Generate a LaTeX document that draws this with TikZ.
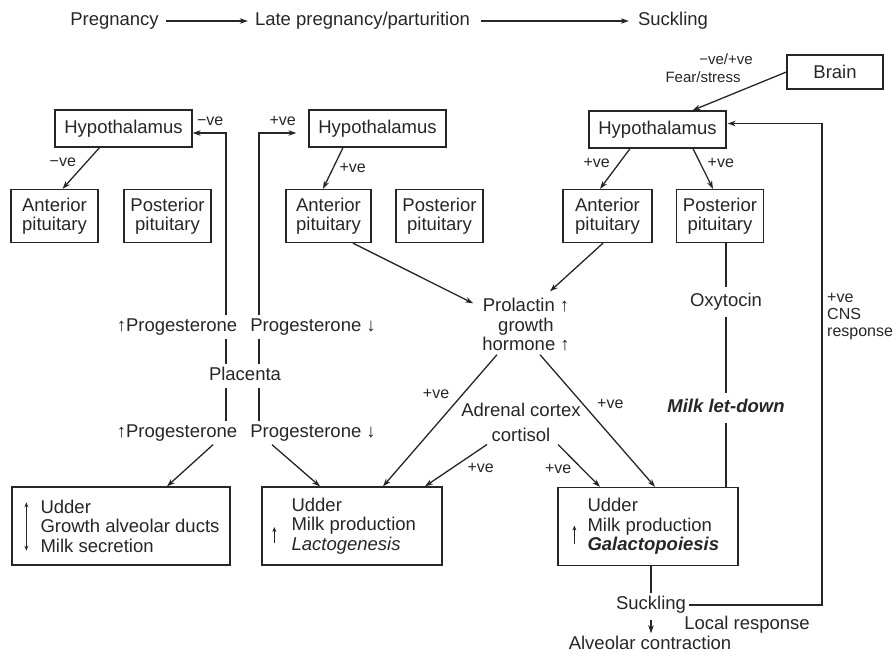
\documentclass[tikz,border=0pt]{standalone}
\usepackage{fontspec}
\setmainfont{Liberation Sans}
\usetikzlibrary{arrows.meta,positioning}

\newcommand{\mainsz}{\fontsize{18.5}{19.5}\selectfont}
\newcommand{\lblsz}{\fontsize{16}{17}\selectfont}

\tikzset{
  ln/.style={draw=black!85,line width=1.3pt},
  arr/.style={ln,-{Stealth[length=8pt,width=5.5pt]}},
  box/.style={ln,align=center,inner sep=2pt,text=black!85},
  hyp/.style={box,minimum width=137pt,minimum height=37pt},
  pit/.style={box,minimum width=87pt,minimum height=53pt},
  udder/.style={box,minimum width=#1,minimum height=78pt},
  txt/.style={inner sep=3pt,text height=13pt,text depth=4pt,text=black!85},
  mtxt/.style={inner sep=3pt,align=center,text=black!85},
  lbl/.style={font=\lblsz,inner sep=1pt,text=black!85},
  tip/.style={line width=1pt,draw=black!85,-{Stealth[length=5pt,width=4pt]}},
  dtip/.style={line width=1pt,draw=black!85,{Stealth[length=5pt,width=4pt]}-{Stealth[length=5pt,width=4pt]}}
}

\begin{document}
\begin{tikzpicture}[x=1pt,y=-1pt,on grid,font=\mainsz]
  \useasboundingbox (0,0) rectangle (896,657);
  % stages
  \node[txt] (preg)  at (114.5,21) {Pregnancy};
  \node[txt] (late)  at (362.5,21) {Late pregnancy/parturition};
  \node[txt] (suckT) at (673,21)   {Suckling};
  \draw[arr,shorten <=4pt,shorten >=4pt] (preg) -- (late);
  \draw[arr,shorten <=8pt,shorten >=6pt] (late) -- (suckT);

  % hypothalamus and pituitary
  \node[hyp] (hypL) at (123.5,128.5) {Hypothalamus};
  \node[hyp] (hypM) [right=254pt of hypL] {Hypothalamus};
  \node[hyp] (hypR) at (657.5,129.5) {Hypothalamus};
  \node[box,minimum width=96pt,minimum height=34pt] (brain) at (835,72) {Brain};
  \node[pit] (antL)  [below left=87.5pt and 69pt of hypL] {Anterior\\pituitary};
  \node[pit] (postL) [right=113pt of antL] {Posterior\\pituitary};
  \node[pit,minimum width=85pt] (antM) [below left=87.5pt and 49pt of hypM] {Anterior\\pituitary};
  \node[pit] (postM) [right=111pt of antM] {Posterior\\pituitary};
  \node[pit,minimum width=89pt] (antR) [below left=86.5pt and 50pt of hypR] {Anterior\\pituitary};
  \node[pit] (postR) [right=112.5pt of antR] {Posterior\\pituitary};

  \draw[arr] ([xshift=-24pt]hypL.south) -- node[lbl,pos=.35,anchor=east,xshift=-9pt] {−ve} ([xshift=8pt]antL.north);
  \draw[arr] ([xshift=-34.5pt]hypM.south) -- node[lbl,pos=.5,anchor=west,xshift=5pt] {+ve} ([xshift=-5.5pt]antM.north);
  \draw[arr] ([xshift=-27.5pt]hypR.south) -- node[lbl,pos=.35,anchor=east,xshift=-8pt] {+ve} ([xshift=-7.5pt]antR.north);
  \draw[arr] ([xshift=35.5pt]hypR.south) -- node[lbl,pos=.35,anchor=west,xshift=6pt] {+ve} ([xshift=-7pt]postR.north);

  \node[lbl,font=\fontsize{15}{16}\selectfont] (fear1) at (726,59) {−ve/+ve};
  \node[lbl,font=\fontsize{15}{16}\selectfont] (fear2) at (703,77) {Fear/stress};
  \draw[arr] (brain.west) -- ([xshift=35pt]hypR.north);

  % placenta
  \node[txt] (puL)  at (177,327) {↑Progesterone};
  \node[txt] (puR)  at (313,327) {Progesterone ↓};
  \node[txt] (plac) at (245,376) {Placenta};
  \node[txt] (plL)  at (177,433) {↑Progesterone};
  \node[txt] (plR)  at (313,433) {Progesterone ↓};
  \coordinate (lx) at (226,0);
  \coordinate (rx) at (259,0);
  \coordinate (hypLin) at ([yshift=-4.5pt]hypL.east);
  \coordinate (hypMin) at ([yshift=-4.5pt]hypM.west);
  \draw[arr] (puL.north -| lx) |- node[lbl,pos=.5,anchor=south east,xshift=-1pt,yshift=6pt] {−ve} (hypLin);
  \draw[arr,shorten >=12pt] (puR.north -| rx) |- node[lbl,pos=.5,anchor=south west,xshift=9pt,yshift=6pt] {+ve} (hypMin);
  \draw[ln] (puL.south -| lx) -- (plac.north -| lx);
  \draw[ln] (plac.south -| lx) -- (plL.north -| lx);
  \draw[ln] (puR.south -| rx) -- (plac.north -| rx);
  \draw[ln] (plac.south -| rx) -- (plR.north -| rx);

  % udder
  \node[udder=218pt] (udL) at (121,526) {};
  \node[udder=180pt] (udM) at (352,526) {};
  \node[udder=180pt] (udR) at (648,526.5) {};
  \node[mtxt,align=left,anchor=west] (udLtxt) at ([xshift=26pt]udL.west) {Udder\\Growth alveolar ducts\\Milk secretion};
  \node[mtxt,align=left,anchor=west] (udMtxt) at ([xshift=27pt]udM.west) {Udder\\Milk production\\\textit{Lactogenesis}};
  \node[mtxt,align=left,anchor=west] (udRtxt) at ([xshift=27pt]udR.west) {Udder\\Milk production\\\textbf{\textit{Galactopoiesis}}};
  \draw[dtip] ([xshift=15pt,yshift=-16pt]udL.north west) -- ([xshift=15pt,yshift=15pt]udL.south west);
  \draw[tip] ([xshift=13pt,yshift=-17pt]udM.west) -- ([xshift=13pt,yshift=-1pt]udM.west);
  \draw[tip] ([xshift=17pt,yshift=-17pt]udR.west) -- ([xshift=17pt,yshift=1pt]udR.west);
  \draw[arr] ([xshift=36pt]plL.south) -- ([xshift=46pt]udL.north);
  \draw[arr] ([xshift=-41pt]plR.south) -- ([xshift=-32pt]udM.north);

  % prolactin and cortisol
  \node[mtxt] (prl) at (526,325) {Prolactin ↑\\growth\\hormone ↑};
  \node[mtxt] (adr) at (521,422) {Adrenal cortex\\[5.5pt]cortisol};
  \draw[arr] ([xshift=24.5pt]antM.south) -- ([xshift=-6pt,yshift=-8pt]prl.north west);
  \draw[arr] ([xshift=-4.5pt]antR.south) -- ([xshift=24pt,yshift=4pt]prl.north);
  \draw[arr] ([xshift=-29pt]prl.south) -- node[lbl,pos=.3,anchor=east,xshift=-12pt] {+ve} ([xshift=31pt]udM.north);
  \draw[arr] ([xshift=14pt]prl.south) -- node[lbl,pos=.37,anchor=west,xshift=13pt] {+ve} ([xshift=7pt]udR.north);
  \draw[arr] ([xshift=-34pt]adr.south) -- node[lbl,pos=.55,anchor=west,xshift=13pt] {+ve} ([xshift=73pt]udM.north);
  \draw[arr] ([xshift=37pt]adr.south) -- node[lbl,pos=.57,anchor=east,xshift=-9pt] {+ve} ([xshift=-48pt]udR.north);

  % oxytocin
  \node[txt,inner ysep=6pt] (oxy) at (726,302) {Oxytocin};
  \node[txt,inner ysep=6pt,font=\mainsz\bfseries\itshape] (mld) at (726,408) {Milk let-down};
  \draw[ln] (postR.south -| oxy) -- (oxy.north);
  \draw[ln] (oxy.south) -- (mld.north);
  \draw[ln] (mld.south) -- (mld |- udR.north);

  % suckling
  \node[txt] (suckB) at (651,605) {Suckling};
  \node[txt] (alv)   at (650,645) {Alveolar contraction};
  \node[txt] (lresp) at (747,625) {Local response};
  \draw[ln] (udR.south -| suckB) -- (suckB.north);
  \draw[arr,shorten <=3pt] (suckB.south) -- (suckB.south |- alv.north);
  \coordinate (fbx) at (822,0);
  \coordinate (hypRin) at ([yshift=6pt]hypR.east);
  \draw[arr,shorten >=1pt] (suckB.east) -| (fbx |- hypRin) -- (hypRin);
  \node[lbl,anchor=west,align=left] (cns) at (826,317) {+ve\\CNS\\response};
\end{tikzpicture}
\end{document}
